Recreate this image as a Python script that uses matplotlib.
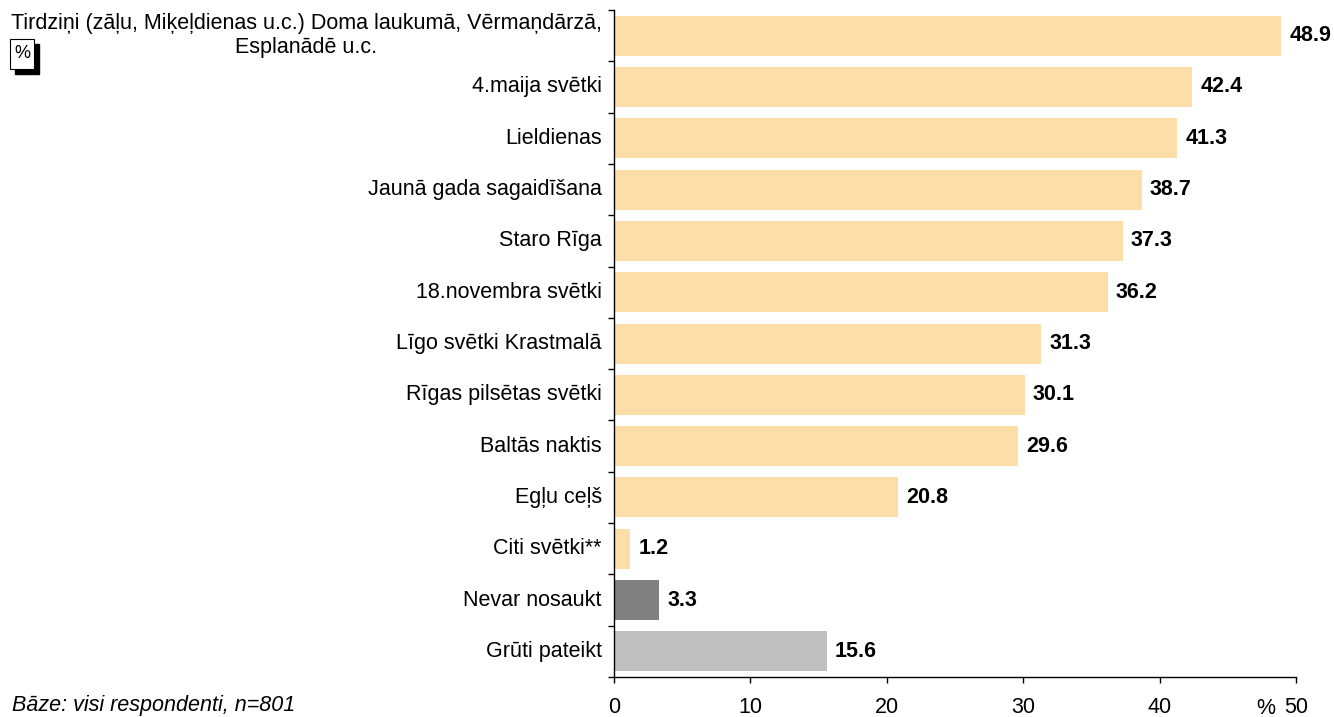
import matplotlib.pyplot as plt
from matplotlib.patches import Rectangle
from matplotlib.transforms import offset_copy

plt.rcParams['font.family'] = ['Liberation Sans', 'DejaVu Sans']

# kategorijas no augšas uz leju
labels = [
    'Tirdziņi (zāļu, Miķeļdienas u.c.) Doma laukumā, Vērmaņdārzā,\nEsplanādē u.c.',
    '4.maija svētki',
    'Lieldienas',
    'Jaunā gada sagaidīšana',
    'Staro Rīga',
    '18.novembra svētki',
    'Līgo svētki Krastmalā',
    'Rīgas pilsētas svētki',
    'Baltās naktis',
    'Egļu ceļš',
    'Citi svētki**',
    'Nevar nosaukt',
    'Grūti pateikt',
]
values = [48.9, 42.4, 41.3, 38.7, 37.3, 36.2, 31.3, 30.1, 29.6, 20.8, 1.2, 3.3, 15.6]
colors = ['#FDDEA9'] * 11 + ['#808080', '#C0C0C0']

FS = 15.5

fig = plt.figure(figsize=(13.34, 7.17), dpi=100)
ax = fig.add_axes([0.4603, 0.0558, 0.5112, 0.9302])

n = len(values)
y = list(range(n))
ax.barh(y, values, height=0.78, color=colors, zorder=2)
ax.set_ylim(n - 0.5, -0.5)
ax.set_xlim(0, 50)

for yi, v in zip(y, values):
    ax.text(v + 0.6, yi, f'{v:.1f}', va='center', ha='left',
            fontsize=FS, fontweight='bold')

# kategoriju nosaukumi; divrindu nosaukumam otro rindu centrē zem pirmās
ax.set_yticks(y)
ax.set_yticklabels([])
ax.tick_params(axis='y', length=0)
renderer = fig.canvas.get_renderer()
for yi, lab in zip(y, labels):
    lines = lab.split('\n')
    if len(lines) == 1:
        ax.text(-0.9, yi, lab, ha='right', va='center', fontsize=FS)
        continue
    up = offset_copy(ax.transData, fig=fig, y=8.8, units='points')
    down = offset_copy(ax.transData, fig=fig, y=-8.8, units='points')
    t1 = ax.text(-0.9, yi, lines[0], ha='right', va='center', fontsize=FS,
                 transform=up)
    bb = t1.get_window_extent(renderer)
    xc = ax.transData.inverted().transform(((bb.x0 + bb.x1) / 2, 0))[0]
    ax.text(xc, yi, lines[1], ha='center', va='center', fontsize=FS,
            transform=down)

# robežu iedaļas starp kategorijām
ax.set_yticks([i - 0.5 for i in range(n + 1)], minor=True)
ax.tick_params(axis='y', which='minor', length=4.5, direction='out', width=1)

ax.set_xticks([0, 10, 20, 30, 40, 50])
ax.tick_params(axis='x', length=4.5, direction='out', pad=10, labelsize=FS, width=1)

for s in ['top', 'right']:
    ax.spines[s].set_visible(False)
ax.spines['left'].set_linewidth(1)
ax.spines['bottom'].set_linewidth(1)

fig.text(1266 / 1334, 1 - 708 / 717, '%', fontsize=FS, ha='center', va='center')
fig.text(12 / 1334, 1 - 706 / 717, 'Bāze: visi respondenti, n=801', fontsize=FS,
         style='italic', ha='left', va='center')

# % rāmītis ar ēnu
fig.patches.append(Rectangle((15 / 1334, 1 - 74 / 717), 24 / 1334, 30 / 717,
                             transform=fig.transFigure, facecolor='black',
                             edgecolor='black'))
fig.patches.append(Rectangle((10 / 1334, 1 - 69 / 717), 24 / 1334, 30 / 717,
                             transform=fig.transFigure, facecolor='white',
                             edgecolor='black', linewidth=0.8))
fig.text(22 / 1334, 1 - 54 / 717, '%', fontsize=13, ha='center', va='center')

fig.savefig('out.png', dpi=100)
